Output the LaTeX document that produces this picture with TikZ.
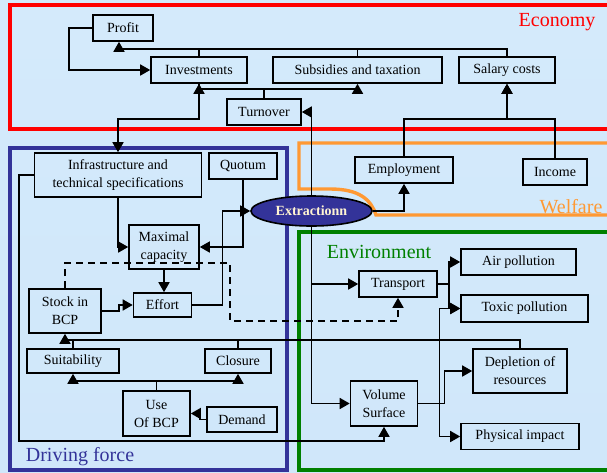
\documentclass[tikz,border=0pt]{standalone}
\usepackage{fontspec}
\setmainfont{Liberation Serif}
\usetikzlibrary{shapes.geometric,arrows.meta,positioning,calc}
\definecolor{ecored}{RGB}{255,0,0}
\definecolor{drivblue}{RGB}{51,51,153}
\definecolor{welforange}{RGB}{255,153,51}
\definecolor{envgreen}{RGB}{0,128,0}
\definecolor{bgtop}{RGB}{212,234,251}
\definecolor{bgmid}{RGB}{246,250,254}
\definecolor{bgbot}{RGB}{208,231,250}
\definecolor{extrtext}{RGB}{255,244,210}

\begin{document}
\begin{tikzpicture}[x=1pt, y=-1pt,
  box/.style={draw, rectangle, line width=1.6pt, align=center, inner sep=1pt, font=\fontsize{14}{18}\selectfont},
  frame/.style={line width=3.4pt},
  arr/.style={-{Triangle[length=10pt,width=11pt]}, line width=1.6pt},
  lbl/.style={font=\fontsize{20}{22}\selectfont}
]
\clip (0,0) rectangle (607,472);
\shade[top color=bgtop, middle color=bgmid, bottom color=bgbot] (0,0) rectangle (607,472);

% frames
\draw[frame, ecored] (10,5) rectangle (620,129);
\draw[frame, drivblue] (10,148) rectangle (287,470);
\draw[frame, envgreen] (299,232) rectangle (620,470);
\draw[frame, welforange] (620,143) -- (299,143) -- (299,189) -- (330,189)
  .. controls (360,189) and (371,200) .. (376,215) -- (620,215);
\node[lbl, text=ecored] (ecolbl) at (557,22) {Economy};
\node[lbl, text=welforange] (wellbl) at (571,207) {Welfare};
\node[lbl, text=envgreen] (envlbl) at (379,252) {Environment};
\node[lbl, text=drivblue] (drvlbl) at (80,457) {Driving force};

% economy
\node[box, minimum width=60pt, minimum height=26pt] (profit) at (123,28) {Profit};
\node[box, minimum width=96pt, minimum height=26pt] (invest) at (199,70) {Investments};
\node[box, minimum width=169pt, minimum height=26pt] (subsid) at (357.5,70) {Subsidies and taxation};
\node[box, minimum width=96pt, minimum height=26pt] (salary) at (507,70) {Salary costs};
\node[box, minimum width=74pt, minimum height=26pt] (turnover) at (264,112) {Turnover};

% driving force
\node[box, minimum width=167pt, minimum height=44pt] (infra) at (118,175) {Infrastructure and\\technical specifications};
\node[box, minimum width=68pt, minimum height=26pt] (quotum) at (243,166) {Quotum};
\node[box, minimum width=70pt, minimum height=44pt] (maxcap) at (164,247) {Maximal\\capacity};
\node[box, minimum width=72pt, minimum height=44pt] (stock) at (65,311) {Stock in\\BCP};
\node[box, minimum width=58pt, minimum height=24pt] (effort) at (162.5,305) {Effort};
\node[box, minimum width=92pt, minimum height=24pt] (suit) at (73,361) {Suitability};
\node[box, minimum width=66pt, minimum height=24pt] (closure) at (238,361) {Closure};
\node[box, minimum width=67pt, minimum height=45pt] (use) at (156.5,413.5) {Use\\Of BCP};
\node[box, minimum width=70pt, minimum height=25pt] (demand) at (242,419.5) {Demand};

% welfare
\node[box, minimum width=98pt, minimum height=26pt] (employ) at (404,170) {Employment};
\node[box, minimum width=64pt, minimum height=26pt] (income) at (555,172) {Income};

% environment
\node[box, minimum width=78pt, minimum height=26pt] (transport) at (398,284) {Transport};
\node[box, minimum width=115pt, minimum height=26pt] (air) at (518.5,262) {Air pollution};
\node[box, minimum width=127pt, minimum height=27pt] (toxic) at (524.5,308.5) {Toxic pollution};
\node[box, minimum width=94pt, minimum height=44pt] (deplet) at (520,371) {Depletion of\\resources};
\node[box, minimum width=67pt, minimum height=45pt] (volume) at (384,403.5) {Volume\\Surface};
\node[box, minimum width=118pt, minimum height=26pt] (phys) at (520,436.5) {Physical impact};

\node[ellipse, draw, line width=1.6pt, fill=drivblue, text=extrtext, minimum width=121pt, minimum height=30pt, inner sep=0pt, font=\bfseries\fontsize{14}{16}\selectfont] (extr) at (311.5,211) {Extractionn};

% economy links
\draw[arr] (profit.west) -- ++(-23,0) |- (invest.west);
\draw[arr] (salary.north) -- ++(0,-7) -| ([xshift=-4pt]profit.south);
\draw[line width=1.6pt] (invest.north) -- ++(0,-7);
\draw[line width=1.6pt] (subsid.north) -- ++(0,-7);
\draw[arr] (turnover.north) -- ++(0,-9) -| (invest.south);
\draw[arr] (turnover.north) -- ++(0,-9) -| (subsid.south);
\draw[arr] (invest.south) -- ++(0,35) -| (infra.north);
\draw[arr] (employ.north) -- ++(0,-37) -| (salary.south);
\draw[arr] (income.north) -- ++(0,-39) -| (salary.south);

% extraction links
\draw[arr] (extr.north) |- (turnover.east);
\draw[arr] (extr.south) |- (transport.west);
\draw[arr] (extr.south) |- (volume.west);
\draw[arr] (extr.east) -| (employ.south);

% driving force links
\draw[arr] (quotum.south) |- (maxcap.east);
\draw[arr] (infra.south) |- (maxcap.west);
\draw[arr] (maxcap.south) -- (maxcap.south |- effort.north);
\draw[arr] (effort.east) -- ++(30,0) |- (extr.west);
\draw[arr] (stock.east) -- ++(17,0) |- (effort.west);
\draw[arr, dash pattern=on 7pt off 5pt] (stock.north) -- ++(0,-25) -- ++(165,0) -- ++(0,58) -| (transport.south);
\draw[arr] (deplet.north) -- ++(0,-8) -| (stock.south);
\draw[line width=1.6pt] (suit.north) -- ++(0,-8);
\draw[line width=1.6pt] (closure.north) -- ++(0,-8);
\draw[arr] (use.north) -- ++(0,-9) -| (suit.south);
\draw[arr] (use.north) -- ++(0,-9) -| (closure.south);
\draw[arr] (demand.west) -- ++(-6,0) |- (use.east);
\draw[arr] (infra.west) -- ++(-15,0) -- ++(0,266) -| (volume.south);

% environment links
\draw[arr] (transport.east) -- ++(11,0) |- (air.west);
\draw[arr] (transport.east) -- ++(11,0) |- (toxic.west);
\draw[arr] (volume.east) -- ++(21,0) |- (toxic.west);
\draw[arr] (volume.east) -- ++(26,0) |- (deplet.west);
\draw[arr] (volume.east) -- ++(21,0) |- (phys.west);
\end{tikzpicture}
\end{document}
